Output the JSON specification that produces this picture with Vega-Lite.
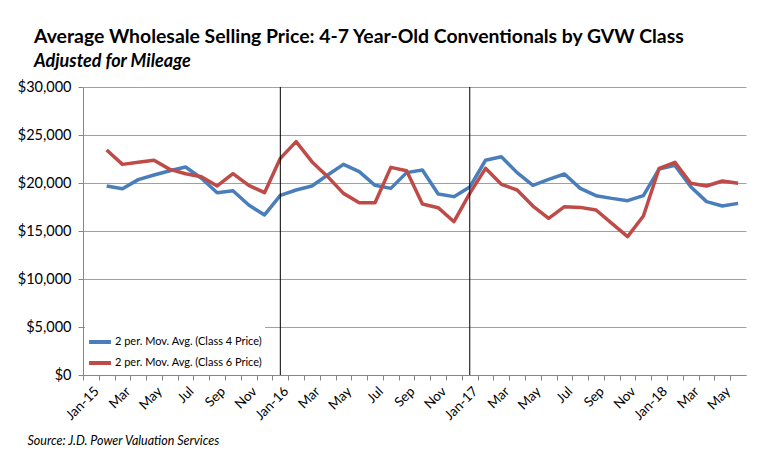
{
  "$schema": "https://vega.github.io/schema/vega-lite/v6.json",
  "width": 663,
  "height": 288,
  "autosize": {"type": "none"},
  "padding": {"left": 83, "top": 87, "right": 17, "bottom": 82},
  "background": "white",
  "title": {
    "text": "Average Wholesale Selling Price: 4-7 Year-Old Conventionals by GVW Class",
    "subtitle": "Adjusted for Mileage",
    "anchor": "start",
    "frame": "group",
    "dx": -49,
    "offset": 7,
    "font": "Lato",
    "fontSize": 19.4,
    "fontWeight": "bold",
    "color": "black",
    "subtitleFont": "Lato",
    "subtitleFontSize": 18,
    "subtitleFontWeight": "bold",
    "subtitleFontStyle": "italic",
    "subtitleColor": "black",
    "subtitlePadding": 6
  },
  "datasets": {
    "prices": [
      {"m": "Feb-15", "s": "c4", "v": 19690}, {"m": "Feb-15", "s": "c6", "v": 23440},
      {"m": "Mar-15", "s": "c4", "v": 19410}, {"m": "Mar-15", "s": "c6", "v": 21940},
      {"m": "Apr-15", "s": "c4", "v": 20350}, {"m": "Apr-15", "s": "c6", "v": 22150},
      {"m": "May-15", "s": "c4", "v": 20830}, {"m": "May-15", "s": "c6", "v": 22360},
      {"m": "Jun-15", "s": "c4", "v": 21280}, {"m": "Jun-15", "s": "c6", "v": 21420},
      {"m": "Jul-15", "s": "c4", "v": 21670}, {"m": "Jul-15", "s": "c6", "v": 20970},
      {"m": "Aug-15", "s": "c4", "v": 20490}, {"m": "Aug-15", "s": "c6", "v": 20660},
      {"m": "Sep-15", "s": "c4", "v": 18990}, {"m": "Sep-15", "s": "c6", "v": 19690},
      {"m": "Oct-15", "s": "c4", "v": 19200}, {"m": "Oct-15", "s": "c6", "v": 20970},
      {"m": "Nov-15", "s": "c4", "v": 17710}, {"m": "Nov-15", "s": "c6", "v": 19760},
      {"m": "Dec-15", "s": "c4", "v": 16670}, {"m": "Dec-15", "s": "c6", "v": 18990},
      {"m": "Jan-16", "s": "c4", "v": 18720}, {"m": "Jan-16", "s": "c6", "v": 22570},
      {"m": "Feb-16", "s": "c4", "v": 19270}, {"m": "Feb-16", "s": "c6", "v": 24310},
      {"m": "Mar-16", "s": "c4", "v": 19690}, {"m": "Mar-16", "s": "c6", "v": 22220},
      {"m": "Apr-16", "s": "c4", "v": 20830}, {"m": "Apr-16", "s": "c6", "v": 20660},
      {"m": "May-16", "s": "c4", "v": 21940}, {"m": "May-16", "s": "c6", "v": 18920},
      {"m": "Jun-16", "s": "c4", "v": 21180}, {"m": "Jun-16", "s": "c6", "v": 17950},
      {"m": "Jul-16", "s": "c4", "v": 19760}, {"m": "Jul-16", "s": "c6", "v": 17950},
      {"m": "Aug-16", "s": "c4", "v": 19440}, {"m": "Aug-16", "s": "c6", "v": 21630},
      {"m": "Sep-16", "s": "c4", "v": 21080}, {"m": "Sep-16", "s": "c6", "v": 21280},
      {"m": "Oct-16", "s": "c4", "v": 21350}, {"m": "Oct-16", "s": "c6", "v": 17810},
      {"m": "Nov-16", "s": "c4", "v": 18850}, {"m": "Nov-16", "s": "c6", "v": 17430},
      {"m": "Dec-16", "s": "c4", "v": 18580}, {"m": "Dec-16", "s": "c6", "v": 15970},
      {"m": "Jan-17", "s": "c4", "v": 19580}, {"m": "Jan-17", "s": "c6", "v": 18920},
      {"m": "Feb-17", "s": "c4", "v": 22370}, {"m": "Feb-17", "s": "c6", "v": 21530},
      {"m": "Mar-17", "s": "c4", "v": 22740}, {"m": "Mar-17", "s": "c6", "v": 19860},
      {"m": "Apr-17", "s": "c4", "v": 21080}, {"m": "Apr-17", "s": "c6", "v": 19270},
      {"m": "May-17", "s": "c4", "v": 19760}, {"m": "May-17", "s": "c6", "v": 17600},
      {"m": "Jun-17", "s": "c4", "v": 20380}, {"m": "Jun-17", "s": "c6", "v": 16320},
      {"m": "Jul-17", "s": "c4", "v": 20940}, {"m": "Jul-17", "s": "c6", "v": 17530},
      {"m": "Aug-17", "s": "c4", "v": 19440}, {"m": "Aug-17", "s": "c6", "v": 17460},
      {"m": "Sep-17", "s": "c4", "v": 18680}, {"m": "Sep-17", "s": "c6", "v": 17190},
      {"m": "Oct-17", "s": "c4", "v": 18400}, {"m": "Oct-17", "s": "c6", "v": 15800},
      {"m": "Nov-17", "s": "c4", "v": 18160}, {"m": "Nov-17", "s": "c6", "v": 14410},
      {"m": "Dec-17", "s": "c4", "v": 18680}, {"m": "Dec-17", "s": "c6", "v": 16560},
      {"m": "Jan-18", "s": "c4", "v": 21460}, {"m": "Jan-18", "s": "c6", "v": 21530},
      {"m": "Feb-18", "s": "c4", "v": 21840}, {"m": "Feb-18", "s": "c6", "v": 22150},
      {"m": "Mar-18", "s": "c4", "v": 19620}, {"m": "Mar-18", "s": "c6", "v": 19970},
      {"m": "Apr-18", "s": "c4", "v": 18060}, {"m": "Apr-18", "s": "c6", "v": 19690},
      {"m": "May-18", "s": "c4", "v": 17600}, {"m": "May-18", "s": "c6", "v": 20210},
      {"m": "Jun-18", "s": "c4", "v": 17880}, {"m": "Jun-18", "s": "c6", "v": 19970}
    ],
    "yearmarks": [{"m": "Jan-16"}, {"m": "Jan-17"}]
  },
  "encoding": {
    "x": {
      "field": "m",
      "type": "ordinal",
      "sort": null,
      "scale": {
        "type": "point",
        "padding": 0.5,
        "domain": ["Jan-15","Feb-15","Mar-15","Apr-15","May-15","Jun-15","Jul-15","Aug-15","Sep-15","Oct-15","Nov-15","Dec-15",
                   "Jan-16","Feb-16","Mar-16","Apr-16","May-16","Jun-16","Jul-16","Aug-16","Sep-16","Oct-16","Nov-16","Dec-16",
                   "Jan-17","Feb-17","Mar-17","Apr-17","May-17","Jun-17","Jul-17","Aug-17","Sep-17","Oct-17","Nov-17","Dec-17",
                   "Jan-18","Feb-18","Mar-18","Apr-18","May-18","Jun-18"]
      },
      "axis": {
        "title": "Source: J.D. Power Valuation Services",
        "titleFont": "Lato",
        "titleFontSize": 12.5,
        "titleFontStyle": "italic",
        "titleFontWeight": "normal",
        "titleColor": "black",
        "titleAnchor": "start",
        "titleAlign": "left",
        "titleBaseline": "alphabetic",
        "titleX": -56,
        "titleY": 69,
        "labelAngle": -45,
        "labelAlign": "right",
        "labelBaseline": "top",
        "labelFont": "Lato",
        "labelFontSize": 13.5,
        "labelColor": "black",
        "labelPadding": 4,
        "labelOverlap": false,
        "labelExpr": "indexof(['Jan','Mar','May','Jul','Sep','Nov'], slice(datum.value,0,3)) >= 0 ? (slice(datum.value,0,3) == 'Jan' ? datum.value : slice(datum.value,0,3)) : ''",
        "tickOffset": -7.893,
        "labelOffset": 8.5,
        "tickSize": 5,
        "tickColor": "#868686",
        "domainColor": "#868686",
        "grid": false
      }
    }
  },
  "layer": [
    {
      "data": {"name": "prices"},
      "mark": {"type": "line", "strokeWidth": 3.5, "strokeJoin": "round"},
      "encoding": {
        "y": {
          "field": "v",
          "type": "quantitative",
          "scale": {"domain": [0, 30000], "nice": false},
          "axis": {
            "title": null,
            "values": [0, 5000, 10000, 15000, 20000, 25000, 30000],
            "format": "$,.0f",
            "labelFont": "Lato",
            "labelFontSize": 14.5,
            "labelColor": "black",
            "labelPadding": 7,
            "tickSize": 5,
            "tickColor": "#868686",
            "domainColor": "#868686",
            "grid": true,
            "gridColor": "#a0a0a0",
            "gridWidth": 1
          }
        },
        "color": {
          "field": "s",
          "type": "nominal",
          "scale": {"domain": ["c4", "c6"], "range": ["#4A7EBB", "#BE4B48"]},
          "legend": {
            "title": null,
            "orient": "bottom-left",
            "offset": 2,
            "padding": 2,
            "fillColor": "white",
            "symbolType": "stroke",
            "symbolStrokeWidth": 4,
            "symbolSize": 480,
            "labelFont": "Lato",
            "labelFontSize": 11,
            "labelColor": "black",
            "labelOffset": 2,
            "rowPadding": -1,
            "labelExpr": "datum.value == 'c4' ? '2 per. Mov. Avg. (Class 4 Price)' : '2 per. Mov. Avg. (Class 6 Price)'"
          }
        }
      }
    },
    {
      "data": {"name": "yearmarks"},
      "mark": {"type": "rule", "color": "black", "strokeWidth": 1},
      "encoding": {}
    }
  ],
  "config": {
    "view": {"stroke": null},
    "font": "Lato"
  }
}
